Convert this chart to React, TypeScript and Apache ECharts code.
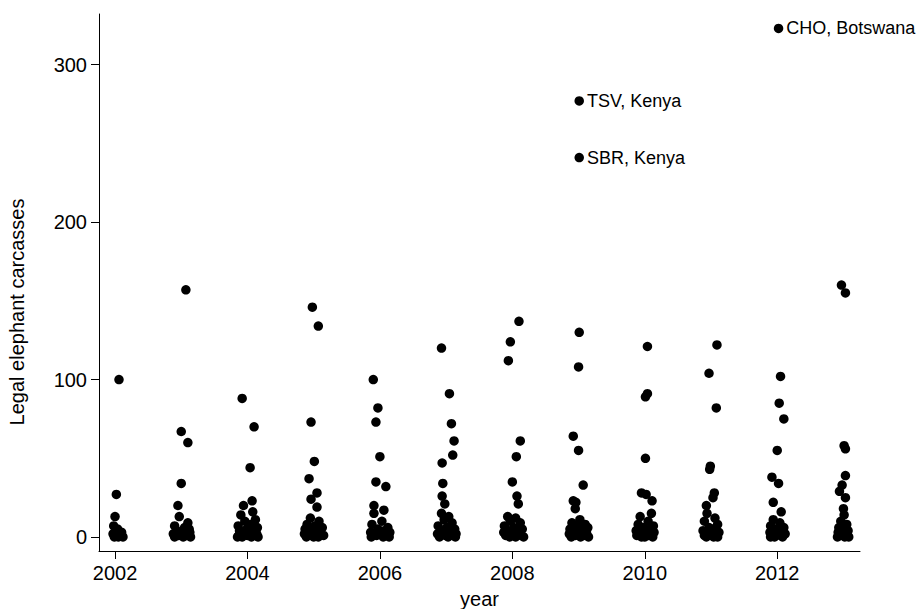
import React, { useEffect, useRef } from "react";
import * as echarts from "echarts";

// Legal elephant carcasses per site and year, jittered around each year.
const pts2002 = [[2002.06,100],[2002.02,27],[2002.0,13],[2001.98,7],[2002.04,5],[2002.1,3],[2001.97,2],[2002.06,1],[2002.12,0],[2001.99,0],[2002.05,0]];
const pts2003 = [[2003.07,157],[2003.0,67],[2003.1,60],[2003.0,34],[2002.95,20],[2002.97,13],[2003.1,9],[2002.9,7],[2003.05,6],[2002.93,4],[2003.13,3],[2003.0,3],[2002.88,2],[2003.08,1],[2002.96,1],[2003.14,0],[2002.9,0],[2003.03,0],[2003.12,5]];
const pts2004 = [[2003.92,88],[2004.1,70],[2004.04,44],[2004.07,23],[2003.94,20],[2004.08,16],[2003.9,14],[2004.12,11],[2003.96,10],[2004.05,8],[2003.86,7],[2004.15,6],[2003.99,5],[2003.88,4],[2004.1,4],[2003.95,3],[2004.03,2],[2004.14,2],[2003.87,1],[2004.0,1],[2004.09,1],[2003.92,0],[2004.06,0],[2004.16,0],[2003.85,0]];
const pts2005 = [[2004.98,146],[2005.07,134],[2004.96,73],[2005.01,48],[2004.93,37],[2005.05,28],[2004.96,24],[2005.05,19],[2004.95,12],[2005.08,10],[2004.9,8],[2005.02,7],[2005.13,6],[2004.87,5],[2004.98,4],[2005.1,3],[2004.92,3],[2005.04,2],[2004.86,2],[2005.15,1],[2004.97,1],[2005.07,0],[2004.89,0],[2005.0,0]];
const pts2006 = [[2005.9,100],[2005.97,82],[2005.94,73],[2006.0,51],[2005.94,35],[2006.09,32],[2005.91,20],[2006.06,17],[2005.91,15],[2006.03,10],[2005.88,8],[2006.12,6],[2005.97,5],[2006.07,4],[2005.86,3],[2006.15,3],[2006.0,2],[2005.9,2],[2006.1,1],[2005.95,1],[2006.05,0],[2005.87,0],[2006.14,0]];
const pts2007 = [[2006.93,120],[2007.05,91],[2007.08,72],[2007.12,61],[2007.1,52],[2006.94,47],[2006.95,34],[2006.94,26],[2006.98,21],[2006.93,15],[2007.04,13],[2006.97,11],[2007.09,9],[2006.88,7],[2007.01,6],[2007.13,5],[2006.92,4],[2007.06,3],[2006.87,2],[2007.15,2],[2006.99,1],[2007.1,1],[2006.9,0],[2007.03,0],[2007.14,0]];
const pts2008 = [[2008.1,137],[2007.97,124],[2007.94,112],[2008.12,61],[2008.06,51],[2008.0,35],[2008.07,26],[2008.09,21],[2007.93,13],[2008.05,12],[2007.97,10],[2008.12,9],[2007.88,7],[2008.02,6],[2008.15,5],[2007.92,4],[2008.08,3],[2007.87,3],[2008.0,2],[2008.13,1],[2007.9,1],[2008.05,0],[2007.96,0],[2008.17,0]];
const pts2009 = [[2009.01,130],[2009.0,108],[2008.92,64],[2009.0,55],[2009.07,33],[2008.92,23],[2008.96,22],[2008.95,18],[2009.02,11],[2008.9,9],[2009.1,8],[2008.97,7],[2009.14,6],[2008.87,5],[2009.05,4],[2008.93,3],[2009.12,3],[2009.0,2],[2008.86,2],[2009.08,1],[2008.95,1],[2009.15,0],[2008.89,0],[2009.03,0]];
const pts2010 = [[2010.04,121],[2010.04,91],[2010.01,89],[2010.01,50],[2009.95,28],[2010.02,27],[2010.11,23],[2010.1,15],[2009.93,13],[2010.05,10],[2009.9,8],[2010.13,7],[2009.98,6],[2010.08,5],[2009.87,4],[2010.02,3],[2010.14,3],[2009.93,2],[2010.06,1],[2009.88,1],[2010.0,0],[2010.12,0],[2009.95,0]];
const pts2011 = [[2011.09,122],[2010.97,104],[2011.08,82],[2010.99,45],[2010.98,43],[2011.05,28],[2011.03,25],[2010.93,20],[2010.94,15],[2011.06,12],[2010.9,10],[2011.1,8],[2010.97,6],[2011.03,5],[2010.88,4],[2011.12,3],[2010.95,2],[2011.07,2],[2010.9,1],[2011.01,1],[2011.1,0],[2010.93,0],[2011.04,0]];
const pts2012 = [[2012.05,102],[2012.03,85],[2012.1,75],[2012.0,55],[2011.92,38],[2012.02,34],[2011.94,22],[2012.06,16],[2011.94,11],[2012.04,9],[2011.9,7],[2012.1,6],[2011.97,5],[2012.06,4],[2011.89,3],[2012.0,2],[2012.12,2],[2011.93,1],[2012.05,1],[2011.96,0],[2012.08,0],[2011.9,0]];
const pts2013 = [[2012.97,160],[2013.03,155],[2013.01,58],[2013.03,56],[2013.03,39],[2012.98,33],[2012.94,29],[2013.03,25],[2013.0,18],[2013.01,14],[2012.96,10],[2013.05,8],[2012.93,6],[2013.02,5],[2013.07,4],[2012.92,3],[2012.99,2],[2013.06,1],[2012.95,1],[2013.02,0],[2012.91,0],[2013.08,0]];

// Outlying sites, drawn with their names beside them.
const labelledSites = [
  { year: 2012.02, value: 323, name: "CHO, Botswana" },
  { year: 2009.01, value: 277, name: "TSV, Kenya" },
  { year: 2009.01, value: 241, name: "SBR, Kenya" },
];

const xTicks = [2002, 2004, 2006, 2008, 2010, 2012];
const yTicks = [0, 100, 200, 300];

const FONT = "Liberation Sans, Arial, Helvetica, sans-serif";

export default function App() {
  const ref = useRef<HTMLDivElement>(null);

  useEffect(() => {
    if (!ref.current) return;
    const chart = echarts.init(ref.current, undefined, { renderer: "svg" });

    const allPoints = [
      ...pts2002, ...pts2003, ...pts2004, ...pts2005, ...pts2006, ...pts2007,
      ...pts2008, ...pts2009, ...pts2010, ...pts2011, ...pts2012, ...pts2013,
    ];

    const axisLine = { show: true, onZero: false, lineStyle: { color: "#000", width: 1 } };
    const dotStyle = { color: "#000", opacity: 1 };

    chart.setOption({
      animation: false,
      backgroundColor: "#fff",
      grid: {
        left: 99,
        right: 58,
        top: 14,
        bottom: 58,
        containLabel: false,
        outerBoundsMode: "none",
      },
      xAxis: {
        type: "value",
        min: 2001.758,
        max: 2013.25,
        axisLine,
        splitLine: { show: false },
        axisTick: { show: true, length: 8, lineStyle: { color: "#000" }, customValues: xTicks },
        axisLabel: {
          color: "#000",
          fontSize: 20,
          fontFamily: FONT,
          margin: 12,
          customValues: xTicks,
          formatter: (v: number) => String(v),
        },
        name: "year",
        nameLocation: "middle",
        nameGap: 38,
        nameTextStyle: { color: "#000", fontSize: 20, fontFamily: FONT },
      },
      yAxis: {
        type: "value",
        min: -8.9,
        max: 332.2,
        axisLine,
        splitLine: { show: false },
        axisTick: { show: true, length: 8, lineStyle: { color: "#000" }, customValues: yTicks },
        axisLabel: {
          color: "#000",
          fontSize: 20,
          fontFamily: FONT,
          margin: 12,
          customValues: yTicks,
          formatter: (v: number) => String(v),
        },
      },
      graphic: [
        {
          type: "text",
          x: 17,
          y: 312,
          rotation: Math.PI / 2,
          style: {
            text: "Legal elephant carcasses",
            fill: "#000",
            fontSize: 20,
            fontFamily: FONT,
            align: "center",
            verticalAlign: "middle",
          },
        },
      ],
      series: [
        {
          type: "scatter",
          symbol: "circle",
          symbolSize: 9.5,
          itemStyle: dotStyle,
          data: allPoints,
        },
        {
          type: "scatter",
          symbol: "circle",
          symbolSize: 9.5,
          itemStyle: dotStyle,
          data: labelledSites.map((s) => ({ value: [s.year, s.value], name: s.name })),
          label: {
            show: true,
            position: "right",
            distance: 3,
            formatter: (p: any) => p.name,
            color: "#000",
            fontSize: 18,
            fontFamily: FONT,
          },
        },
      ],
    });

    return () => chart.dispose();
  }, []);

  return (
    <div
      ref={ref}
      style={{ position: "absolute", left: 0, top: 0, width: 918, height: 609 }}
    />
  );
}
